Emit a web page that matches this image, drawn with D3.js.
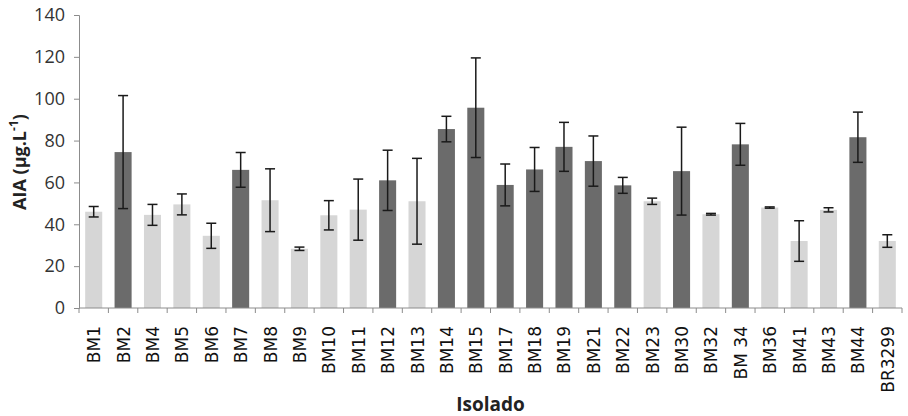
<!DOCTYPE html>
<html>
<head>
<meta charset="utf-8">
<script src="https://cdn.jsdelivr.net/npm/d3@7"></script>
<style>
  body { margin: 0; background: #fff; }
  svg { display: block; }
</style>
</head>
<body>
<svg id="chart" width="908" height="416"></svg>
<script>
const isolates = ['BM1', 'BM2', 'BM4', 'BM5', 'BM6', 'BM7', 'BM8', 'BM9', 'BM10', 'BM11',
  'BM12', 'BM13', 'BM14', 'BM15', 'BM17', 'BM18', 'BM19', 'BM21', 'BM22', 'BM23',
  'BM30', 'BM32', 'BM 34', 'BM36', 'BM41', 'BM43', 'BM44', 'BR3299']
const means = [46, 74.5, 44.5, 49.5, 34.5, 66, 51.5, 28.3, 44.3, 47,
  61, 51, 85.5, 95.7, 58.8, 66.2, 77, 70.2, 58.6, 51,
  65.4, 44.8, 78.2, 48, 32, 46.9, 81.6, 32]
const errors = [2.5, 27, 5, 5, 6, 8.3, 15, 0.8, 7, 14.6,
  14.4, 20.5, 6.1, 23.8, 10, 10.5, 11.7, 12, 3.8, 1.5,
  21, 0.4, 10, 0.3, 9.7, 1, 12, 3]
const highlighted = ['BM2', 'BM7', 'BM12', 'BM14', 'BM15', 'BM17', 'BM18', 'BM19',
  'BM21', 'BM22', 'BM30', 'BM 34', 'BM44']
const yTicks = [0, 20, 40, 60, 80, 100, 120, 140]

const data = isolates.map((name, i) => ({ name, value: means[i], err: errors[i] }))

const svg = d3.select('#chart')
const margin = { top: 15, left: 79, right: 6, bottom: 108 }
const width = 908 - margin.left - margin.right
const height = 416 - margin.top - margin.bottom

const x = d3.scaleBand()
  .domain(isolates)
  .range([0, width])
  .paddingInner(0.42)
  .paddingOuter(0.21)

const y = d3.scaleLinear()
  .domain([0, 140])
  .range([height, 0])

const g = svg.append('g')
  .attr('transform', `translate(${margin.left}, ${margin.top})`)

// y axis
const yAxis = g.append('g')
  .call(d3.axisLeft(y).tickValues(yTicks).tickSize(5).tickPadding(9))
yAxis.select('.domain').attr('stroke', '#8c8c8c')
yAxis.selectAll('.tick line').attr('stroke', '#8c8c8c')
yAxis.selectAll('.tick text')
  .attr('font-family', '"Open Sans", sans-serif')
  .attr('font-size', 18)
  .attr('fill', '#333')

// bars
g.selectAll('.bar')
  .data(data)
  .enter().append('rect')
  .attr('class', 'bar')
  .attr('x', d => x(d.name))
  .attr('y', d => y(d.value))
  .attr('width', x.bandwidth())
  .attr('height', d => height - y(d.value))
  .attr('fill', d => highlighted.includes(d.name) ? '#6b6b6b' : '#d6d6d6')

// error bars
const eb = g.selectAll('.err')
  .data(data)
  .enter().append('g')
  .attr('class', 'err')
  .attr('stroke', '#1a1a1a')
  .attr('stroke-width', 1.5)
const cx = d => x(d.name) + x.bandwidth() / 2
eb.append('line')
  .attr('x1', cx).attr('x2', cx)
  .attr('y1', d => y(d.value + d.err))
  .attr('y2', d => y(d.value - d.err))
eb.append('line')
  .attr('x1', d => cx(d) - 5).attr('x2', d => cx(d) + 5)
  .attr('y1', d => y(d.value + d.err))
  .attr('y2', d => y(d.value + d.err))
eb.append('line')
  .attr('x1', d => cx(d) - 5).attr('x2', d => cx(d) + 5)
  .attr('y1', d => y(d.value - d.err))
  .attr('y2', d => y(d.value - d.err))

// x axis with ticks between categories
const xAxis = g.append('g')
  .attr('transform', `translate(0, ${height})`)
xAxis.append('line')
  .attr('x1', 0).attr('x2', width)
  .attr('stroke', '#8c8c8c')
xAxis.selectAll('.sep')
  .data(d3.range(isolates.length + 1))
  .enter().append('line')
  .attr('x1', i => i * width / isolates.length)
  .attr('x2', i => i * width / isolates.length)
  .attr('y1', 0).attr('y2', 5)
  .attr('stroke', '#8c8c8c')
xAxis.selectAll('.label')
  .data(isolates)
  .enter().append('text')
  .attr('transform', d => `translate(${x(d) + x.bandwidth() / 2 + 6.5}, 18) rotate(-90)`)
  .attr('text-anchor', 'end')
  .attr('font-family', '"DejaVu Sans", sans-serif')
  .attr('font-size', 17)
  .attr('fill', '#111')
  .text(d => d)

// axis titles
svg.append('text')
  .attr('x', margin.left + width / 2)
  .attr('y', 411)
  .attr('text-anchor', 'middle')
  .attr('font-family', '"Open Sans", sans-serif')
  .attr('font-weight', 'bold')
  .attr('font-size', 19)
  .attr('fill', '#222')
  .text('Isolado')

const yTitle = svg.append('text')
  .attr('transform', 'translate(26, 162) rotate(-90)')
  .attr('text-anchor', 'middle')
  .attr('font-family', '"Open Sans", sans-serif')
  .attr('font-weight', 'bold')
  .attr('font-size', 18)
  .attr('fill', '#222')
yTitle.append('tspan').text('AIA (µg.L')
yTitle.append('tspan').attr('baseline-shift', 'super').attr('font-size', 12).text('-1')
yTitle.append('tspan').text(')')
</script>
</body>
</html>
